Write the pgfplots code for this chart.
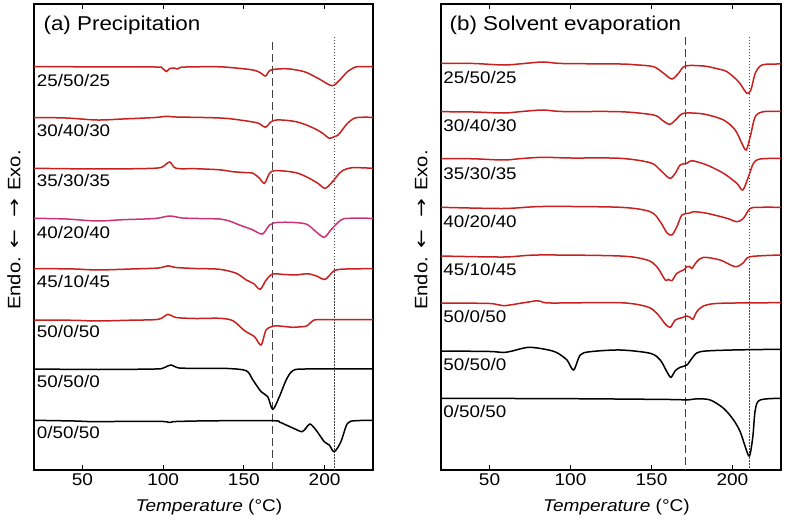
\documentclass[border=0pt]{standalone}
\usepackage{fontspec}
\setmainfont{Liberation Sans}[FakeStretch=1.12]
\newfontfamily\arrowfont{DejaVu Sans}
\usepackage{pgfplots}
\pgfplotsset{compat=1.18}
\definecolor{dscRed}{HTML}{C8201E}
\definecolor{dscPink}{HTML}{CC3377}

\pgfplotsset{
  dsc/.style={
    scale only axis, width=339pt, height=466pt,
    xmin=20, xmax=230, ymin=4, ymax=470, y dir=reverse,
    xtick={50,100,150,200}, ytick=\empty,
    tick align=inside, major tick length=5pt,
    tick style={line width=0.9pt, black},
    axis line style={line width=1.3pt},
    /pgf/number format/assume math mode=true,
    ticklabel style={font=\fontsize{17}{20}\selectfont},
    xlabel={\textit{Temperature} (°C)},
    xlabel style={font=\fontsize{17}{20}\selectfont, at={(axis description cs:0.516,-0.079)}, anchor=center},
    ylabel={Endo.\hspace{0.45em}{\arrowfont\scalebox{1.25}[1]{←}}\hspace{0.7em}{\arrowfont\scalebox{1.25}[1]{→}}\hspace{0.45em}Exo.},
    ylabel style={font=\fontsize{18}{21}\selectfont, at={(axis description cs:-0.059,0.515)}, anchor=center},
    clip=false,
  },
  crv/.style={line width=1.5pt, smooth, tension=0.5},
}
\tikzset{
  lbl/.style={anchor=west, inner sep=0pt, font=\fontsize{16.8}{20}\selectfont},
  ttl/.style={anchor=west, inner sep=0pt, font=\fontsize{20}{24}\selectfont},
}

\begin{document}
\begin{tikzpicture}
\path[use as bounding box] (0,0) rectangle (787pt,521pt);

% (a) Precipitation
\begin{axis}[dsc, at={(34pt,51pt)}, anchor=south west]
\addplot[black!75, line width=1pt, dash pattern=on 8pt off 4pt] coordinates {(168,42) (168,470)};
\addplot[black!75, line width=0.9pt, dash pattern=on 1.5pt off 1.5pt] coordinates {(206,37) (206,470)};
% 25/50/25
\addplot[dscRed, crv] coordinates {
 (20,66.7) (60,66.8) (95,67) (99,67.5) (102,71.5) (104,68.5) (107,68.2) (109,69) (111,67.3) (120,66.8)
 (135,66.8) (145,68) (155.7,70) (160,72.5) (163.4,76) (165.9,70.7) (169,69.3) (176,68.7) (182,69.8)
 (188.5,72.3) (196.7,79) (204.5,85.7) (209,80.7) (214.2,71.7) (219.4,66.9) (224,66.7) (230,66.7)};
% 30/40/30
\addplot[dscRed, crv] coordinates {
 (20,117.5) (40,118) (59,120) (75,119) (95,117.5) (102,116.3) (108,117) (125,117.5) (140,118.5)
 (155.7,122) (160,124) (163.4,127.3) (166.9,121.7) (170.4,120) (176,120.3) (182.3,121.7) (188,124.5)
 (194.7,129.3) (199,133.5) (202.9,138.3) (206,136.7) (208,135.5) (210.1,131.7) (214.2,123.3)
 (218.3,118.3) (222,117.3) (230,117.3)};
% 35/30/35
\addplot[dscRed, crv] coordinates {
 (20,168.3) (60,169) (90,168.5) (99,167.3) (104,162) (108,168.3) (120,168.7) (135,169.8) (143.2,171.7)
 (150,172.5) (155.7,173.3) (159.7,178.3) (162.8,183.3) (165.9,173.3) (169,170.7) (176,171.2)
 (182.3,172.7) (186,174.8) (190.6,178.3) (196,183.5) (200.4,188.3) (204.9,181.7) (208,175.5)
 (211.1,170.7) (217.2,167.7) (230,168.3)};
% 40/20/40
\addplot[dscPink, crv] coordinates {
 (20,218.3) (40,219) (59,221) (75,219.7) (95,218.5) (104,216) (112,218) (125,218.6) (135,219)
 (141,221) (147.3,225) (155,229.5) (161.4,234) (165.9,225) (169,222.7) (178,222.3) (188.5,224)
 (194.7,231.7) (199.8,237.3) (203.9,230) (210.1,220) (215,218.3) (230,218.3)};
% 45/10/45
\addplot[dscRed, crv] coordinates {
 (20,268.5) (45,269) (59,270) (80,269) (97,268) (103,265.8) (108,267.5) (120,268.5) (135,269.3)
 (145.3,273.3) (151.5,280) (156,283.5) (160.1,289.3) (163.8,280) (167.9,274) (175,274.5)
 (182.3,275) (187,274) (190.6,274) (195,276) (200.4,279.3) (206,270.7) (213.2,269) (230,268.7)};
% 50/0/50
\addplot[dscRed, crv] coordinates {
 (20,320) (45,320.3) (59,321) (80,320.2) (97,319.3) (103,314.3) (108,317.5) (120,318.5) (135,318.3)
 (143.2,320.7) (150.4,330.7) (156.6,336.7) (160.7,345) (163.8,330) (169,326) (175,326.5)
 (180.3,327.3) (185,326.8) (188.9,326) (193.6,320) (200,319.7) (230,319.7)};
% 50/50/0
\addplot[black, crv] coordinates {
 (20,369) (60,369.5) (95,369) (100,368) (105,365) (110,368) (125,368.3) (140,368.5) (151.5,370.7)
 (155.6,380) (160.7,391.7) (164.8,396.7) (167.9,409.3) (172,396.7) (176.2,380) (180.3,370.7)
 (188,369) (230,369)};
% 0/50/50
\addplot[black, crv] coordinates {
 (20,420.3) (45,421) (58,421.7) (80,421.3) (100,421.5) (104,422.5) (108,421.5) (130,420.8)
 (167.9,420.7) (172,422) (176.2,425) (181,428.5) (186,431.7) (188.5,428) (191,424) (194.7,430)
 (199.8,441.7) (202.9,445) (206,451.7) (210.1,441.7) (214.2,423.3) (219.4,420.7) (230,420.5)};

\node[ttl] at (axis cs:25.8,25.7) {(a) Precipitation};
\node[lbl] at (axis cs:21.7,80) {25/50/25};
\node[lbl] at (axis cs:21.7,130.7) {30/40/30};
\node[lbl] at (axis cs:21.7,180) {35/30/35};
\node[lbl] at (axis cs:21.7,232.3) {40/20/40};
\node[lbl] at (axis cs:21.7,281.7) {45/10/45};
\node[lbl] at (axis cs:21.7,331.7) {50/0/50};
\node[lbl] at (axis cs:21.7,381.7) {50/50/0};
\node[lbl] at (axis cs:21.7,432.3) {0/50/50};
\end{axis}

% (b) Solvent evaporation
\begin{axis}[dsc, at={(441pt,51pt)}, anchor=south west, width=340pt]
\addplot[black!75, line width=1pt, dash pattern=on 8pt off 4pt] coordinates {(171.2,37) (171.2,470)};
\addplot[black!75, line width=0.9pt, dash pattern=on 1.5pt off 1.5pt] coordinates {(210.5,37) (210.5,470)};
% 25/50/25
\addplot[dscRed, crv] coordinates {
 (20,63.5) (40,63.5) (58.6,65) (70,63.7) (83,62) (95,63.5) (130.7,64) (140,64.8) (151.3,66.7)
 (157.5,73.3) (162.6,79) (166.7,73.3) (170.8,66) (182.1,66) (190,68.5) (196.6,71.7) (203.8,81.7)
 (208.9,93.3) (211.4,90) (214.1,73.3) (218.2,65) (227.4,64) (230,64)};
% 30/40/30
\addplot[dscRed, crv] coordinates {
 (20,111.7) (40,112) (58.6,113) (70,111.5) (83,110) (95,111.5) (130.7,111.7) (151.3,115) (156.4,120)
 (161.2,124.3) (165.3,119.3) (169.8,113.3) (182.1,114) (194.5,120) (201.7,130) (205.8,143.3)
 (208.5,150) (211,136.7) (214.1,116.7) (219.2,111.7) (230,111.5)};
% 35/30/35
\addplot[dscRed, crv] coordinates {
 (20,158.5) (40,158.8) (58.6,160) (70,158.5) (83,157.3) (100,158) (130.7,158.3) (149.2,162.7)
 (155.4,170) (161.2,178.3) (164.7,173.3) (167.7,165) (171.9,163.3) (175,160.7) (184.2,165)
 (194.5,173.3) (202.7,183.3) (206.4,190) (209.9,176.7) (213,163.3) (217.1,159) (230,158.3)};
% 40/20/40
\addplot[dscRed, crv] coordinates {
 (20,207.3) (58.6,208.5) (83,206.5) (130.7,207.3) (149.2,211.7) (155.4,221.7) (159.5,232.7)
 (162.6,235) (165.7,226.7) (168.8,215) (172.9,213.3) (176,211.7) (184.2,213.3) (196.6,218.3)
 (202.7,221.7) (206.8,218.3) (211,208.3) (217,207.3) (230,207.3)};
% 45/10/45
\addplot[dscRed, crv] coordinates {
 (20,256) (58.6,257) (80,255) (130.7,256) (147.2,260) (153.3,266.7) (158.5,280) (160.5,279.3)
 (162.6,280.7) (165.7,273.3) (169.8,270) (171.9,266.7) (173.5,266.5) (175,268.3) (178,261.7)
 (182.1,257.3) (192.4,260) (201.7,266.7) (206.8,262.7) (211,256.7) (230,255)};
% 50/0/50
\addplot[dscRed, crv] coordinates {
 (20,303) (50,303.5) (58.6,305.7) (70,303) (76,301.5) (79.3,300.7) (82,301.5) (88,303) (130.7,302.7)
 (147.2,306.7) (153.3,313.3) (158.5,324) (161.6,327.3) (164.7,320) (168.8,317.7) (171.9,316)
 (173.9,317.3) (175.6,319.3) (178,311.7) (182.1,306) (192.4,303.3) (230,302.7)};
% 50/50/0
\addplot[black, crv] coordinates {
 (20,351) (50,351.5) (58.6,352.5) (64,351) (74.1,347.3) (85,349.5) (91.6,352.7) (97.8,360)
 (101.9,370) (106,355) (112.2,351.7) (130.7,350) (149.2,353.3) (155.4,360) (159.5,371.7) (162,377.3)
 (164.7,370.7) (167.7,367.3) (171.9,365) (175,358.3) (180.1,351.7) (200,350) (230,349.3)};
% 0/50/50
\addplot[black, crv] coordinates {
 (20,398.3) (100,398.7) (161.6,399.5) (171.9,400) (178,398.8) (186.3,400) (194.5,408.3) (200.7,420)
 (204.8,431.7) (207.9,446.7) (210.5,456) (212.6,436.7) (214.1,410) (217.1,400) (230,398.3)};

\node[ttl] at (axis cs:25.2,25.7) {(b) Solvent evaporation};
\node[lbl] at (axis cs:21.4,77.3) {25/50/25};
\node[lbl] at (axis cs:21.4,125) {30/40/30};
\node[lbl] at (axis cs:21.4,173.3) {35/30/35};
\node[lbl] at (axis cs:21.4,221.7) {40/20/40};
\node[lbl] at (axis cs:21.4,269.3) {45/10/45};
\node[lbl] at (axis cs:21.4,316.7) {50/0/50};
\node[lbl] at (axis cs:21.4,364.3) {50/50/0};
\node[lbl] at (axis cs:21.4,411.7) {0/50/50};
\end{axis}
\end{tikzpicture}
\end{document}
